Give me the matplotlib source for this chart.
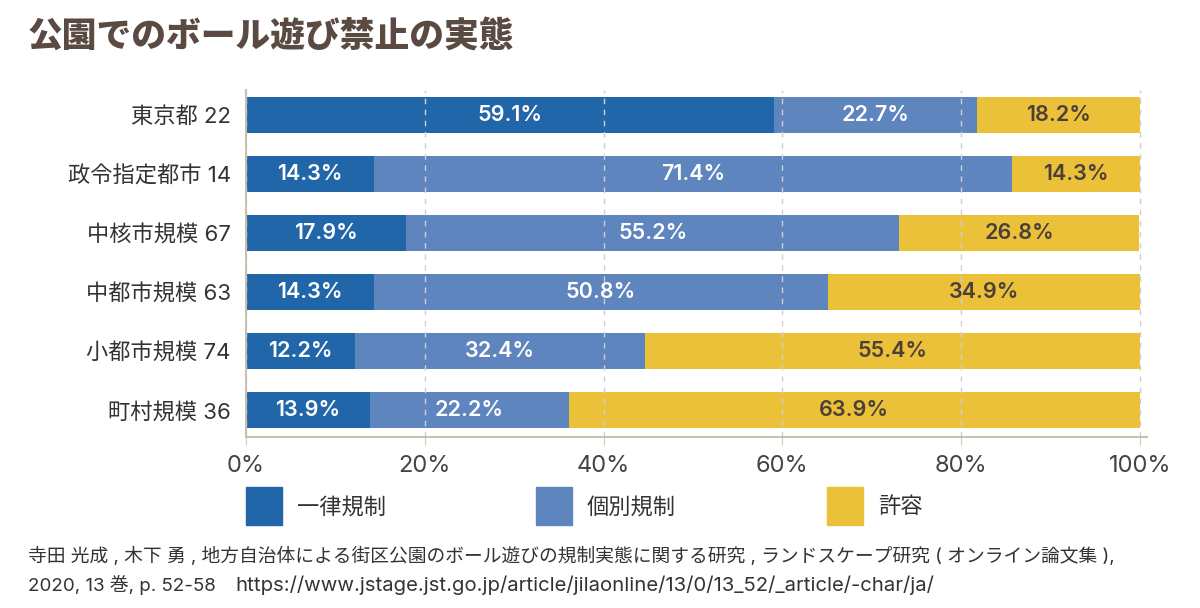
import matplotlib
matplotlib.use("Agg")
import matplotlib.pyplot as plt
from matplotlib.patches import Rectangle
import numpy as np

# Latin glyphs from Inter, CJK glyphs fall back to Noto Sans CJK JP
plt.rcParams['font.family'] = ['Inter', 'Noto Sans CJK JP', 'DejaVu Sans']

# data
categories = ['東京都 22', '政令指定都市 14', '中核市規模 67', '中都市規模 63', '小都市規模 74', '町村規模 36']
uniform = [59.1, 14.3, 17.9, 14.3, 12.2, 13.9]
individual = [22.7, 71.4, 55.2, 50.8, 32.4, 22.2]
allowed = [18.2, 14.3, 26.8, 34.9, 55.4, 63.9]
series_names = ['一律規制', '個別規制', '許容']
xticks = [0, 20, 40, 60, 80, 100]

colors = ['#2166a8', '#5e85bd', '#ecc13a']
label_colors = ['white', 'white', '#4a4038']

fig = plt.figure(figsize=(12, 6.08), dpi=100)
ax = fig.add_axes([246 / 1200, 1 - 437 / 608, (1147 - 246) / 1200, (437 - 90) / 608])

y = np.arange(len(categories))
left = np.zeros(len(categories))
for vals, col, lc in zip([uniform, individual, allowed], colors, label_colors):
    vals = np.array(vals)
    ax.barh(y, vals, left=left, height=0.61, color=col, zorder=2)
    for yi, l, v in zip(y, left, vals):
        ax.text(l + v / 2, yi, f'{v:.1f}%', ha='center', va='center',
                color=lc, fontsize=15.5, fontweight='semibold', zorder=4)
    left = left + vals

ax.set_xlim(0, 100.8)
ax.set_ylim(5.458, -0.42)
ax.set_yticks(y)
ax.set_yticklabels(categories, fontsize=16, color='#333333')
ax.set_xticks(xticks)
ax.set_xticklabels([f'{t}%' for t in xticks], fontsize=17, color='#444444')
ax.tick_params(axis='y', length=0, pad=11)
ax.tick_params(axis='x', length=6, color='#cccccc', pad=7)

ax.grid(axis='x', linestyle=(0, (4, 4)), color='#cfcfcf', linewidth=1, zorder=3)
ax.set_axisbelow(False)
for s in ['top', 'right']:
    ax.spines[s].set_visible(False)
for s in ['left', 'bottom']:
    ax.spines[s].set_color('#c9c0b0')
    ax.spines[s].set_linewidth(1.5)
    ax.spines[s].set_zorder(5)

# title
fig.text(28 / 1200, 1 - 37 / 608, '公園でのボール遊び禁止の実態', fontsize=25,
         fontweight='heavy', color='#5a4a42', va='center', ha='left',
         family=['Noto Sans CJK JP'])

# legend
leg_x = [246, 536, 827]
for lx, col, name in zip(leg_x, colors, series_names):
    fig.patches.append(Rectangle((lx / 1200, 1 - 525 / 608), 36 / 1200, 38 / 608,
                                 transform=fig.transFigure, color=col))
    fig.text((lx + 51) / 1200, 1 - 507 / 608, name, fontsize=16, color='#333333',
             va='center', ha='left')

# source
fig.text(28 / 1200, 1 - 556 / 608,
         '寺田 光成 , 木下 勇 , 地方自治体による街区公園のボール遊びの規制実態に関する研究 , ランドスケープ研究 ( オンライン論文集 ),',
         fontsize=13.5, color='#333333', va='center', ha='left')
fig.text(28 / 1200, 1 - 585 / 608, '2020, 13 巻, p. 52-58',
         fontsize=13.5, color='#333333', va='center', ha='left')
fig.text(235 / 1200, 1 - 585 / 608,
         'https://www.jstage.jst.go.jp/article/jilaonline/13/0/13_52/_article/-char/ja/',
         fontsize=14.6, color='#333333', va='center', ha='left')

fig.savefig('out.png', dpi=100, facecolor='white')
